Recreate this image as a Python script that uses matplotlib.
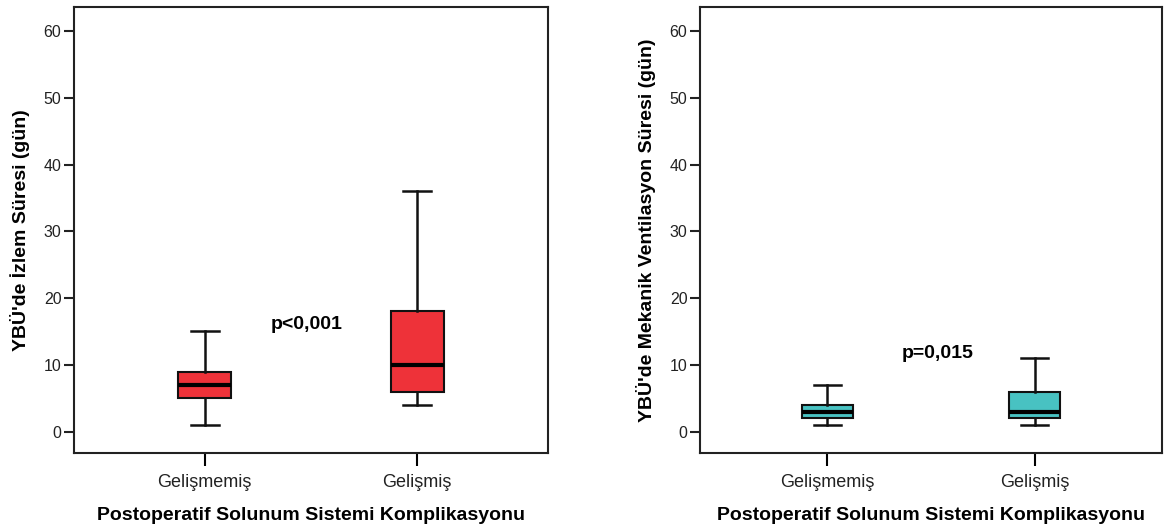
import matplotlib.pyplot as plt

plt.rcParams['font.family'] = ['Liberation Sans', 'DejaVu Sans']

groups = ['Gelişmemiş', 'Gelişmiş']

# ICU stay (days): whisker low, q1, median, q3, whisker high
stay_lo = [1, 4]
stay_q1 = [5, 6]
stay_med = [7, 10]
stay_q3 = [9, 18]
stay_hi = [15, 36]

# Mechanical ventilation (days)
vent_lo = [1, 1]
vent_q1 = [2, 2]
vent_med = [3, 3]
vent_q3 = [4, 6]
vent_hi = [7, 11]

W, H = 1169, 529
fig = plt.figure(figsize=(W / 100, H / 100), dpi=100)


def make_stats(lo, q1, med, q3, hi):
    return [dict(whislo=lo[i], q1=q1[i], med=med[i], q3=q3[i], whishi=hi[i], fliers=[])
            for i in range(len(lo))]


def draw_panel(rect, stats, color, ylabel, ptext, pxy):
    ax = fig.add_axes(rect)
    ax.bxp(stats, positions=[1, 2], widths=0.25, patch_artist=True, showfliers=False,
           boxprops=dict(facecolor=color, edgecolor='#111111', linewidth=1.5),
           medianprops=dict(color='black', linewidth=3),
           whiskerprops=dict(color='#111111', linewidth=1.8),
           capprops=dict(color='#111111', linewidth=1.8),
           capwidths=0.13)
    ax.set_xlim(0.385, 2.615)
    ax.set_ylim(-3.2, 63.6)
    ax.set_yticks([0, 10, 20, 30, 40, 50, 60])
    ax.set_xticks([1, 2])
    ax.set_xticklabels(groups, fontsize=13, color='#222222')
    ax.tick_params(axis='y', labelsize=11.5, length=7, width=1.5, pad=2, colors='#222222')
    ax.tick_params(axis='x', length=9, width=1.5, pad=6)
    for s in ax.spines.values():
        s.set_linewidth(1.5)
        s.set_color('#222222')
    ax.set_ylabel(ylabel, fontsize=14, fontweight='bold', labelpad=10)
    ax.set_xlabel('Postoperatif Solunum Sistemi Komplikasyonu', fontsize=14,
                  fontweight='bold', labelpad=12)
    ax.text(pxy[0], pxy[1], ptext, fontsize=14, fontweight='bold',
            ha='center', va='center')
    return ax


bottom = 1 - 453 / H
height = 446 / H
draw_panel([74 / W, bottom, 474 / W, height],
           make_stats(stay_lo, stay_q1, stay_med, stay_q3, stay_hi),
           '#EE3239', "YBÜ'de İzlem Süresi (gün)", 'p<0,001', (1.48, 16))
draw_panel([700 / W, bottom, 462 / W, height],
           make_stats(vent_lo, vent_q1, vent_med, vent_q3, vent_hi),
           '#48C2C2', "YBÜ'de Mekanik Ventilasyon Süresi (gün)", 'p=0,015', (1.53, 11.7))

fig.savefig('out.png', dpi=100)
